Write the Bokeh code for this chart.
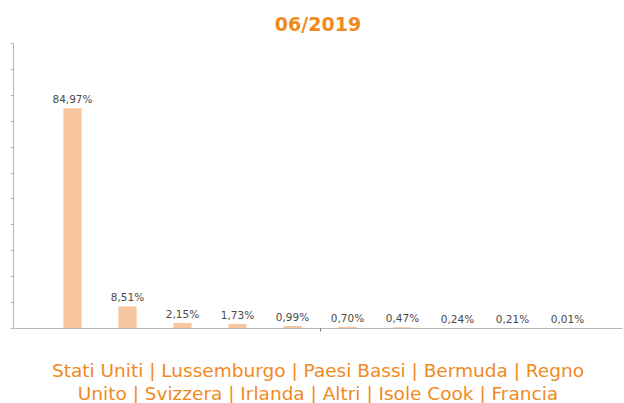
from bokeh.plotting import figure
from bokeh.models import Range1d, FixedTicker, Title, LinearAxis
from bokeh.core.properties import value
from bokeh.embed import file_html
from bokeh.resources import INLINE

countries = ["Stati Uniti", "Lussemburgo", "Paesi Bassi", "Bermuda", "Regno Unito",
             "Svizzera", "Irlanda", "Altri", "Isole Cook", "Francia"]
shares = [84.97, 8.51, 2.15, 1.73, 0.99, 0.70, 0.47, 0.24, 0.21, 0.01]
labels = ["84,97%", "8,51%", "2,15%", "1,73%", "0,99%", "0,70%", "0,47%", "0,24%", "0,21%", "0,01%"]
positions = list(range(1, len(countries) + 1))
title_text = "06/2019"
y_ticks = list(range(0, 111, 10))

ORANGE = "#F08A1E"
BAR = "#F8C69E"
AXIS = "#b8b8b8"

p = figure(width=624, height=403, output_backend="svg", toolbar_location=None,
           x_range=Range1d(-0.073, 11.0), y_range=Range1d(0, 110),
           x_axis_type=None, y_axis_type=None,
           min_border_left=13, min_border_right=2, min_border_top=43, min_border_bottom=75)
p.outline_line_color = None
p.xgrid.visible = False
p.ygrid.visible = False
p.background_fill_color = "white"
p.border_fill_color = "white"

p.title.text = title_text
p.title.align = "center"
p.title.text_color = ORANGE
p.title.text_font = "DejaVu Sans"
p.title.text_font_size = "19px"
p.title.text_font_style = "bold"
p.title.offset = 0
p.title.standoff = 18

yaxis = LinearAxis(ticker=FixedTicker(ticks=y_ticks), major_label_text_font_size="0px",
                   major_label_text_color=None,
                   major_label_standoff=0, major_tick_out=3, major_tick_in=0,
                   minor_tick_line_color=None, axis_line_color=AXIS, major_tick_line_color=AXIS)
p.add_layout(yaxis, "left")

line1 = " | ".join(countries[:4]) + " | Regno"
line2 = "Unito | " + " | ".join(countries[5:])

xaxis = LinearAxis(ticker=FixedTicker(ticks=[5.5]), major_label_text_font_size="0px",
                   major_label_text_color=None,
                   major_label_standoff=0, major_tick_out=3, major_tick_in=0,
                   minor_tick_line_color=None, axis_line_color=AXIS, major_tick_line_color="#777777",
                   axis_label=line1, axis_label_standoff=28,
                   axis_label_text_font="DejaVu Sans", axis_label_text_font_size="18.5px",
                   axis_label_text_font_style="normal", axis_label_text_color=ORANGE)
p.add_layout(xaxis, "below")

p.vbar(x=positions, top=shares, width=0.33, bottom=0, fill_color=BAR, line_color=None)
p.text(x=positions, y=shares, text=labels, text_align="center", text_baseline="bottom",
       y_offset=-3, text_font=value("DejaVu Sans"), text_font_size="10.5px", text_color="#4a4a4a")

p.add_layout(Title(text=line2, align="center", text_color=ORANGE, text_font="DejaVu Sans",
                   text_font_size="18.5px", text_font_style="normal", standoff=-6, offset=0), "below")

open("out.html", "w").write(file_html(p, INLINE))
